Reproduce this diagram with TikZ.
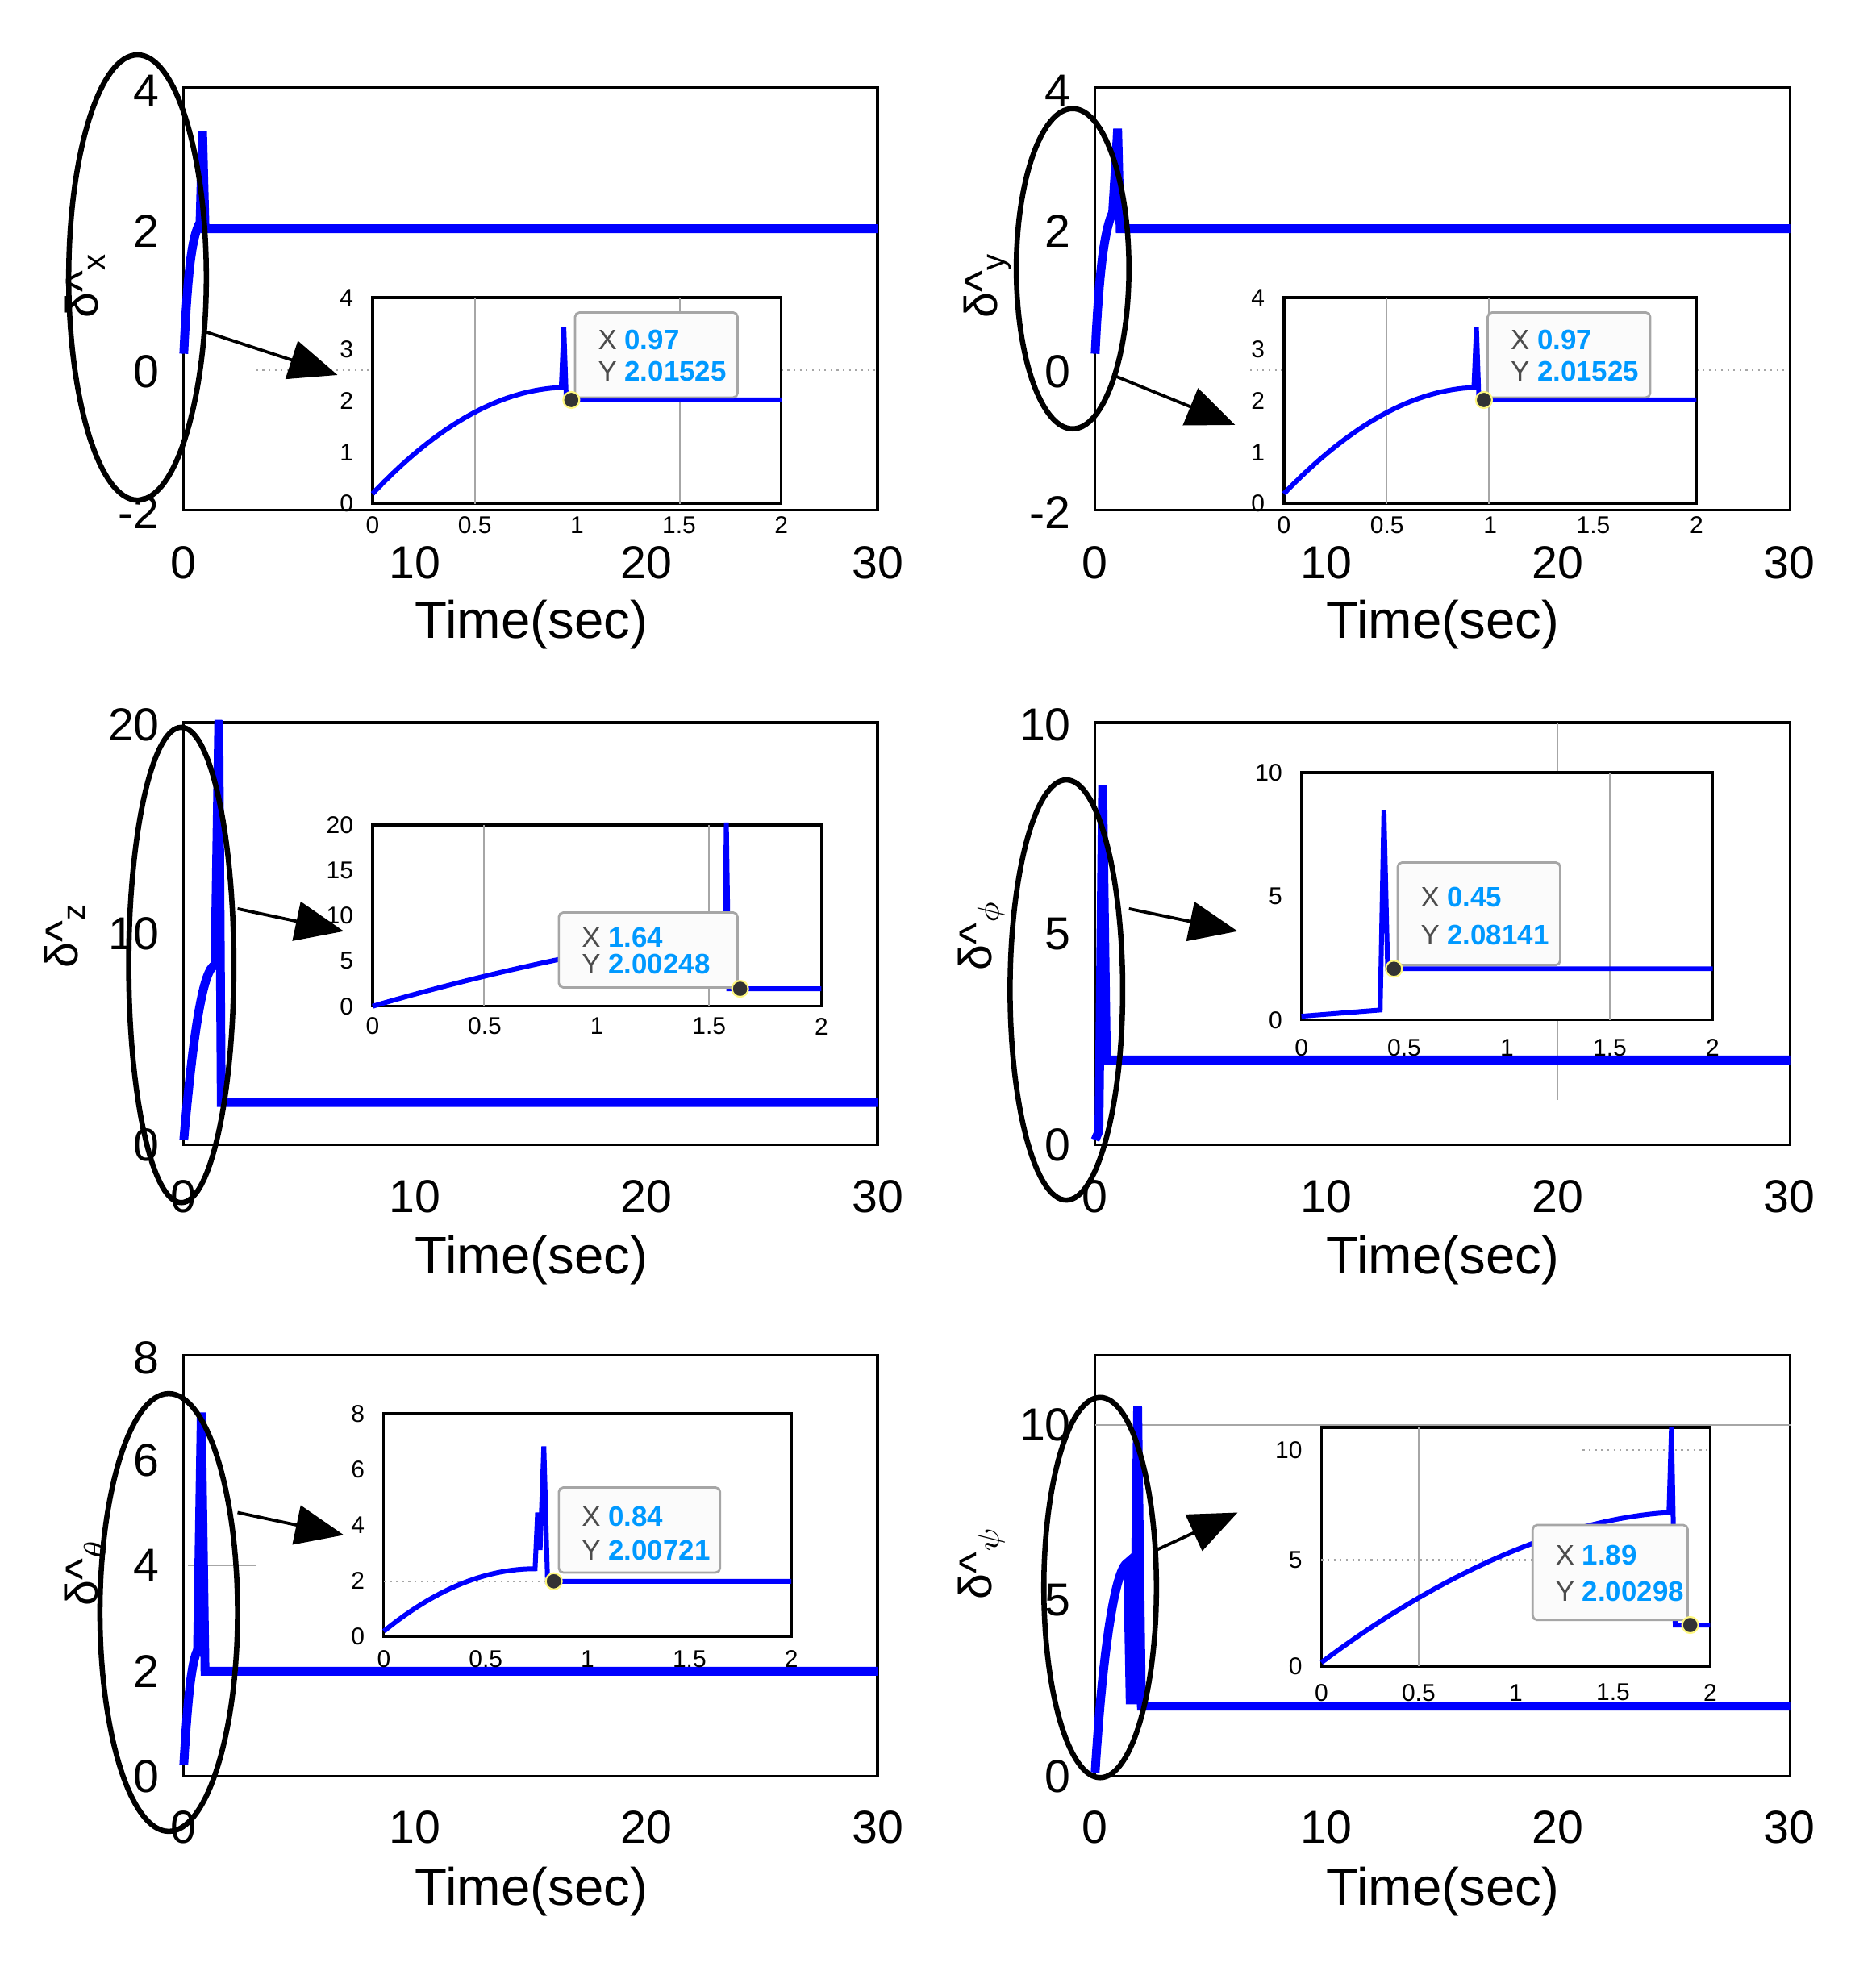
\documentclass[tikz,border=0pt]{standalone}
\usepackage{fontspec}
\setmainfont{Liberation Sans}
\usetikzlibrary{arrows.meta,shapes.geometric}
\definecolor{tipblue}{RGB}{0,153,255}
\begin{document}
\begin{tikzpicture}[x=0.01cm,y=-0.01cm,
  ax/.style={draw=black,line width=0.6pt},
  tick/.style={font=\fontsize{10.5pt}{11pt}\selectfont},
  itick/.style={font=\fontsize{5.5pt}{6pt}\selectfont},
  tlab/.style={font=\fontsize{12pt}{13pt}\selectfont},
  data/.style={draw=blue,line width=2pt},
  idata/.style={draw=blue,line width=1.1pt},
  grid/.style={draw=gray!70,line width=0.4pt},
  ell/.style={draw=black,line width=1.2pt,ellipse,inner sep=0pt},
  arr/.style={draw=black,line width=0.7pt,-{Triangle[length=11pt,width=9pt]}},
  tip/.style={draw=gray!70,fill=gray!3,rounded corners=1pt,line width=0.5pt},
  tiptxt/.style={anchor=west,font=\fontsize{6.4pt}{7pt}\selectfont},
  dot/.style={circle,fill=black!80,draw=yellow!50!white,inner sep=1.3pt}]
\useasboundingbox (0,0) rectangle (1500,1580);
% ---------- x tick labels and Time(sec) for all panels
\foreach \yo/\tl in {450/500,957/1008,1462/1513}{
  \foreach \xo in {147,876}{
    \foreach \k/\lab in {0/0,1/10,2/20,3/30}{
      \node[tick] (xt\xo\yo\k) at ({\xo+\k*185},\yo) {\lab};}
    \node[tlab] (tl\xo\yo) at ({\xo+278},\tl) {Time(sec)};}}
% ================= Panel 1
\draw[ax] (147,70) rectangle (702,408);
\foreach \v/\y in {4/73,2/185,0/297,-2/410}{\node[tick,anchor=east] (p1y\y) at (140,\y) {\v};}
\node[tick,rotate=90] (p1l) at (68,228) {δ\^{}\textsubscript{x}};
\draw[grid,densely dotted] (205,296) -- (298,296) (625,296) -- (700,296);
\draw[data] (147,283) .. controls (150,220) and (153,190) .. (160,178) -- (162,105) -- (164,183) -- (702,183);
\draw[ax] (298,238) rectangle (625,403);
\draw[grid] (380,238) -- (380,403) (544,238) -- (544,403);
\foreach \v in {0,...,4}{\node[itick,anchor=east] (i1y\v) at (295,{403-\v*41.25}) {\v};}
\foreach \v/\l in {0/0,1/0.5,2/1,3/1.5,4/2}{\node[itick] (i1x\v) at ({298+\v*81.75},420) {\l};}
\draw[idata] (298,395) .. controls (350,340) and (400,312) .. (449,310) -- (451,262) -- (453,320) -- (625,320);
\draw[tip] (460,250) rectangle (590,318);
\node[tiptxt] (t1a) at (466,272) {\textcolor{black!70}{X} \textcolor{tipblue}{\textbf{0.97}}};
\node[tiptxt] (t1b) at (466,297) {\textcolor{black!70}{Y} \textcolor{tipblue}{\textbf{2.01525}}};
\node[dot] (d1) at (457,320) {};
\node[ell,minimum width=1.1cm,minimum height=3.56cm] (e1) at (110,222) {};
\coordinate (a1s) at (163,265); \coordinate (a1e) at (270,300);
\draw[arr] (a1s) -- (a1e);
% ================= Panel 2
\draw[ax] (876,70) rectangle (1432,408);
\foreach \v/\y in {4/73,2/185,0/297,-2/410}{\node[tick,anchor=east] (p2y\y) at (869,\y) {\v};}
\node[tick,rotate=90] (p2l) at (790,228) {δ\^{}\textsubscript{y}};
\draw[grid,densely dotted] (1000,296) -- (1027,296) (1357,296) -- (1430,296);
\draw[data] (876,283) .. controls (879,220) and (883,185) .. (890,170) -- (894,103) -- (896,183) -- (1432,183);
\draw[ax] (1027,238) rectangle (1357,403);
\draw[grid] (1109,238) -- (1109,403) (1191,238) -- (1191,403);
\foreach \v in {0,...,4}{\node[itick,anchor=east] (i2y\v) at (1024,{403-\v*41.25}) {\v};}
\foreach \v/\l in {0/0,1/0.5,2/1,3/1.5,4/2}{\node[itick] (i2x\v) at ({1027+\v*82.5},420) {\l};}
\draw[idata] (1027,395) .. controls (1080,340) and (1130,312) .. (1179,310) -- (1181,262) -- (1183,320) -- (1357,320);
\draw[tip] (1190,250) rectangle (1320,318);
\node[tiptxt] (t2a) at (1196,272) {\textcolor{black!70}{X} \textcolor{tipblue}{\textbf{0.97}}};
\node[tiptxt] (t2b) at (1196,297) {\textcolor{black!70}{Y} \textcolor{tipblue}{\textbf{2.01525}}};
\node[dot] (d2) at (1187,320) {};
\node[ell,minimum width=0.9cm,minimum height=2.56cm] (e2) at (858,215) {};
\coordinate (a2s) at (890,300); \coordinate (a2e) at (988,340);
\draw[arr] (a2s) -- (a2e);
% ================= Panel 3 (z)
\draw[ax] (147,578) rectangle (702,916);
\foreach \v/\y in {20/580,10/747,0/916}{\node[tick,anchor=east] (p3y\y) at (140,\y) {\v};}
\node[tick,rotate=90] (p3l) at (52,748) {δ\^{}\textsubscript{z}};
\draw[data] (147,912) .. controls (155,820) and (163,775) .. (172,772) -- (175,576) -- (177,882) -- (702,882);
\draw[ax] (298,660) rectangle (657,805);
\draw[grid] (387,660) -- (387,805) (567,660) -- (567,805);
\foreach \v in {0,...,4}{\node[itick,anchor=east] (i3y\v) at (295,{805-\v*36.25}) {\the\numexpr\v*5\relax};}
\foreach \v/\l in {0/0,1/0.5,2/1,3/1.5,4/2}{\node[itick] (i3x\v) at ({298+\v*89.75},821) {\l};}
\draw[idata] (298,805) .. controls (400,775) and (500,755) .. (580,745) -- (581,658) -- (583,791) -- (657,791);
\draw[tip] (447,730) rectangle (590,790);
\node[tiptxt] (t3a) at (453,750) {\textcolor{black!70}{X} \textcolor{tipblue}{\textbf{1.64}}};
\node[tiptxt] (t3b) at (453,771) {\textcolor{black!70}{Y} \textcolor{tipblue}{\textbf{2.00248}}};
\node[dot] (d3) at (592,791) {};
\node[ell,minimum width=0.84cm,minimum height=3.8cm] (e3) at (145,772) {};
\coordinate (a3s) at (190,727); \coordinate (a3e) at (275,745);
\draw[arr] (a3s) -- (a3e);
% ================= Panel 4 (phi)
\draw[ax] (876,578) rectangle (1432,916);
\draw[grid] (1246,578) -- (1246,618) (1246,816) -- (1246,880);
\foreach \v/\y in {10/580,5/747,0/916}{\node[tick,anchor=east] (p4y\y) at (869,\y) {\v};}
\node[tick,rotate=90] (p4l) at (785,748) {δ\^{}\textsubscript{$\phi$}};
\draw[data] (876,912) -- (879,905) -- (882,628) -- (885,848) -- (1432,848);
\draw[ax,fill=white] (1041,618) rectangle (1370,816);
\draw[grid] (1288,618) -- (1288,816);
\foreach \v/\y in {0/816,5/717,10/618}{\node[itick,anchor=east] (i4y\v) at (1038,\y) {\v};}
\foreach \v/\l in {0/0,1/0.5,2/1,3/1.5,4/2}{\node[itick] (i4x\v) at ({1041+\v*82.25},838) {\l};}
\draw[idata] (1041,813) -- (1104,808) -- (1107,648) -- (1110,775) -- (1370,775);
\draw[tip] (1118,690) rectangle (1248,772);
\node[tiptxt] (t4a) at (1124,718) {\textcolor{black!70}{X} \textcolor{tipblue}{\textbf{0.45}}};
\node[tiptxt] (t4b) at (1124,748) {\textcolor{black!70}{Y} \textcolor{tipblue}{\textbf{2.08141}}};
\node[dot] (d4) at (1115,775) {};
\node[ell,minimum width=0.9cm,minimum height=3.36cm] (e4) at (853,792) {};
\coordinate (a4s) at (903,727); \coordinate (a4e) at (990,745);
\draw[arr] (a4s) -- (a4e);
% ================= Panel 5 (theta)
\draw[ax] (147,1084) rectangle (702,1421);
\draw[grid] (150,1252) -- (205,1252);
\foreach \v/\y in {8/1086,6/1168,4/1252,2/1337,0/1421}{\node[tick,anchor=east] (p5y\y) at (140,\y) {\v};}
\node[tick,rotate=90] (p5l) at (68,1258) {δ\^{}\textsubscript{$\theta$}};
\draw[data] (147,1412) .. controls (150,1360) and (153,1330) .. (158,1320) -- (161,1130) -- (164,1337) -- (702,1337);
\draw[ax] (307,1131) rectangle (633,1309);
\draw[grid,densely dotted] (307,1265) -- (445,1265);
\foreach \v in {0,...,4}{\node[itick,anchor=east] (i5y\v) at (304,{1309-\v*44.5}) {\the\numexpr\v*2\relax};}
\foreach \v/\l in {0/0,1/0.5,2/1,3/1.5,4/2}{\node[itick] (i5x\v) at ({307+\v*81.5},1327) {\l};}
\draw[idata] (307,1305) .. controls (350,1270) and (390,1255) .. (428,1255) -- (430,1210) -- (432,1240) -- (435,1157) -- (438,1265) -- (633,1265);
\draw[tip] (447,1190) rectangle (576,1258);
\node[tiptxt] (t5a) at (453,1213) {\textcolor{black!70}{X} \textcolor{tipblue}{\textbf{0.84}}};
\node[tiptxt] (t5b) at (453,1240) {\textcolor{black!70}{Y} \textcolor{tipblue}{\textbf{2.00721}}};
\node[dot] (d5) at (443,1265) {};
\node[ell,minimum width=1.1cm,minimum height=3.5cm] (e5) at (135,1290) {};
\coordinate (a5s) at (190,1210); \coordinate (a5e) at (275,1228);
\draw[arr] (a5s) -- (a5e);
% ================= Panel 6 (psi)
\draw[ax] (876,1084) rectangle (1432,1421);
\draw[grid] (876,1140) -- (1432,1140);
\foreach \v/\y in {10/1140,5/1280,0/1421}{\node[tick,anchor=east] (p6y\y) at (869,\y) {\v};}
\node[tick,rotate=90] (p6l) at (785,1250) {δ\^{}\textsubscript{$\psi$}};
\draw[data] (876,1418) .. controls (882,1320) and (892,1255) .. (902,1250) -- (904,1360) -- (907,1360) -- (910,1125) -- (913,1365) -- (1432,1365);
\draw[ax,fill=white] (1057,1142) rectangle (1368,1333);
\draw[grid] (1135,1142) -- (1135,1333);
\draw[grid,densely dotted] (1057,1248) -- (1226,1248) (1266,1160) -- (1368,1160);
\foreach \v/\y in {0/1333,5/1248,10/1160}{\node[itick,anchor=east] (i6y\v) at (1054,\y) {\v};}
\foreach \v/\l in {0/0,1/0.5,2/1,3/1.5,4/2}{\node[itick] (i6x\v) at ({1057+\v*77.75},1354) {\l};}
\draw[idata] (1057,1330) .. controls (1150,1260) and (1250,1215) .. (1335,1210) -- (1337,1142) -- (1340,1300) -- (1368,1300);
\draw[tip] (1226,1220) rectangle (1350,1296);
\node[tiptxt] (t6a) at (1232,1244) {\textcolor{black!70}{X} \textcolor{tipblue}{\textbf{1.89}}};
\node[tiptxt] (t6b) at (1232,1273) {\textcolor{black!70}{Y} \textcolor{tipblue}{\textbf{2.00298}}};
\node[dot] (d6) at (1352,1300) {};
\node[ell,minimum width=0.9cm,minimum height=3.04cm] (e6) at (880,1270) {};
\coordinate (a6s) at (925,1240); \coordinate (a6e) at (990,1210);
\draw[arr] (a6s) -- (a6e);
\end{tikzpicture}
\end{document}
